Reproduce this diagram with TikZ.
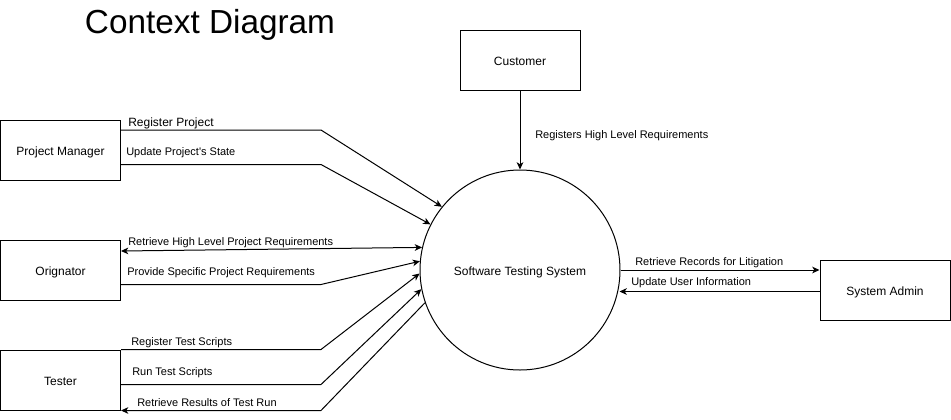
\documentclass[tikz,border=0pt]{standalone}
\usepackage{fontspec}
\setmainfont{Liberation Sans}
\usetikzlibrary{arrows.meta,calc}
\begin{document}
\begin{tikzpicture}[x=0.75pt,y=-0.75pt,
  ent/.style={draw, line width=0.75pt, minimum width=90pt, minimum height=45pt, inner sep=0pt, text height=8.6pt, text depth=0pt, font=\fontsize{9}{11}\selectfont},
  proc/.style={draw, circle, line width=0.75pt, minimum size=150pt, inner sep=0pt, text height=8.6pt, text depth=0pt, font=\fontsize{9}{11}\selectfont},
  tip/.tip={Stealth[length=5.5pt,width=5pt,inset=1.6pt]},
  flow/.style={line width=0.75pt, -tip},
  flowb/.style={line width=0.75pt, tip-tip},
  lbl/.style={anchor=west, inner sep=0pt, font=\fontsize{8.25}{10}\selectfont},
  lblb/.style={anchor=west, inner sep=0pt, font=\fontsize{9}{11}\selectfont}]
\useasboundingbox (0,0) rectangle (951,419);
\node[font=\fontsize{25}{30}\selectfont] (title) at (210,25) {Context Diagram};
\node[ent] (cust) at (520,60) {Customer};
\node[ent] (pm) at (60.5,150) {Project Manager};
\node[ent] (orig) at (60.5,270) {Orignator};
\node[ent] (tester) at (60.5,380) {Tester};
\node[ent, minimum width=97.5pt] (adm) at (885,290) {System Admin};
\node[proc] (sys) at (520,270) {Software Testing System};

\draw[flow] (cust.south) -- (sys.north);
\draw[flow] ($(pm.north east)+(0,10.5)$) -- ++(200,0) -- (sys.141);
\draw[flow] ($(pm.north east)+(0,45)$) -- ++(200,0) -- (sys.153);
\draw[flowb] ($(orig.north east)+(0,11.5)$) -- (sys.167);
\draw[flow] ($(orig.north east)+(0,45)$) -- ++(200,0) -- (sys.175);
\draw[flow] (tester.north east) -- ++(200,0) -- (sys.182);
\draw[flow] ($(tester.north east)+(0,35)$) -- ++(200,0) -- (sys.191);
\draw[flow] (sys.199) -- ($(tester.south east)+(200,0)$) -- (tester.south east);
\draw[flow] (sys.east) -- (sys.east -| adm.west);
\draw[flow] ($(adm.north west)+(0,32)$) -- ++(-200,0);

\node[lbl] (l1) at (535,136) {Registers High Level Requirements};
\node[lblb] (l2) at (128,123) {Register Project};
\node[lbl] (l3) at (126,153) {Update Project\textquotesingle s State};
\node[lbl] (l4) at (128,243) {Retrieve High Level Project Requirements};
\node[lbl] (l5) at (127,272.5) {Provide Specific Project Requirements};
\node[lbl] (l6) at (131,343) {Register Test Scripts};
\node[lbl] (l7) at (132,373) {Run Test Scripts};
\node[lbl] (l8) at (137,403) {Retrieve Results of Test Run};
\node[lbl] (l9) at (635,263) {Retrieve Records for Litigation};
\node[lbl] (l10) at (631,283) {Update User Information};
\end{tikzpicture}
\end{document}
